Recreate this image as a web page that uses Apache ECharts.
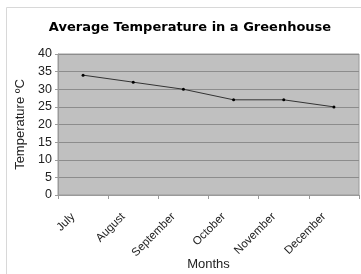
<!DOCTYPE html>
<html>
<head>
<meta charset="utf-8">
<script src="https://cdn.jsdelivr.net/npm/echarts@6/dist/echarts.min.js"></script>
<style>
  html, body { margin: 0; padding: 0; background: #fff; }
  #chart { width: 361px; height: 274px; }
</style>
</head>
<body>
<div id="chart"></div>
<script>
const months = ['July', 'August', 'September', 'October', 'November', 'December'];
const temps = [34, 32, 30, 27, 27, 25];
const yTicks = [0, 40, 5]; // min, max, step

const chart = echarts.init(document.getElementById('chart'));
chart.setOption({
  animation: false,
  backgroundColor: '#fff',
  textStyle: { fontFamily: 'Liberation Sans, Arial, sans-serif' },
  graphic: [
    {
      type: 'rect',
      shape: { x: 6.5, y: 7.5, width: 400, height: 300 },
      style: { fill: 'none', stroke: '#d8d8d8', lineWidth: 1 },
      z: -1,
    },
  ],
  title: {
    text: 'Average Temperature in a Greenhouse',
    left: 185,
    textAlign: 'center',
    top: 16,
    textStyle: { fontFamily: 'DejaVu Sans', fontWeight: 'bold', fontSize: 13, color: '#000' },
  },
  grid: {
    left: 58,
    right: 2,
    top: 54,
    bottom: 79,
    outerBoundsMode: 'none',
    containLabel: false,
    show: true,
    backgroundColor: '#c0c0c0',
    borderColor: '#9a9a9a',
    borderWidth: 1,
  },
  xAxis: {
    type: 'category',
    data: months,
    boundaryGap: true,
    name: 'Months',
    nameLocation: 'middle',
    nameGap: 63,
    nameMoveOverlap: false,
    nameTextStyle: { fontSize: 13, color: '#222' },
    axisLine: { show: true, lineStyle: { color: '#9a9a9a' } },
    axisTick: { show: true, length: 4, lineStyle: { color: '#9a9a9a' } },
    axisLabel: {
      rotate: 45,
      fontSize: 11.5,
      color: '#222',
      margin: 10,
      padding: [0, 14, 0, 0],
    },
  },
  yAxis: {
    type: 'value',
    min: yTicks[0],
    max: yTicks[1],
    interval: yTicks[2],
    name: 'Temperature ºC',
    nameLocation: 'middle',
    nameGap: 31,
    nameMoveOverlap: false,
    nameTextStyle: { fontSize: 13, color: '#222' },
    axisLine: { show: true, lineStyle: { color: '#9a9a9a' } },
    axisTick: { show: true, length: 3, lineStyle: { color: '#9a9a9a' } },
    axisLabel: { fontSize: 12.5, color: '#222', margin: 6 },
    splitLine: { show: true, lineStyle: { color: '#8c8c8c', width: 1 } },
  },
  series: [
    {
      type: 'line',
      data: temps,
      symbol: 'circle',
      symbolSize: 3,
      itemStyle: { color: '#000' },
      lineStyle: { color: '#333', width: 1 },
    },
  ],
});
</script>
</body>
</html>
